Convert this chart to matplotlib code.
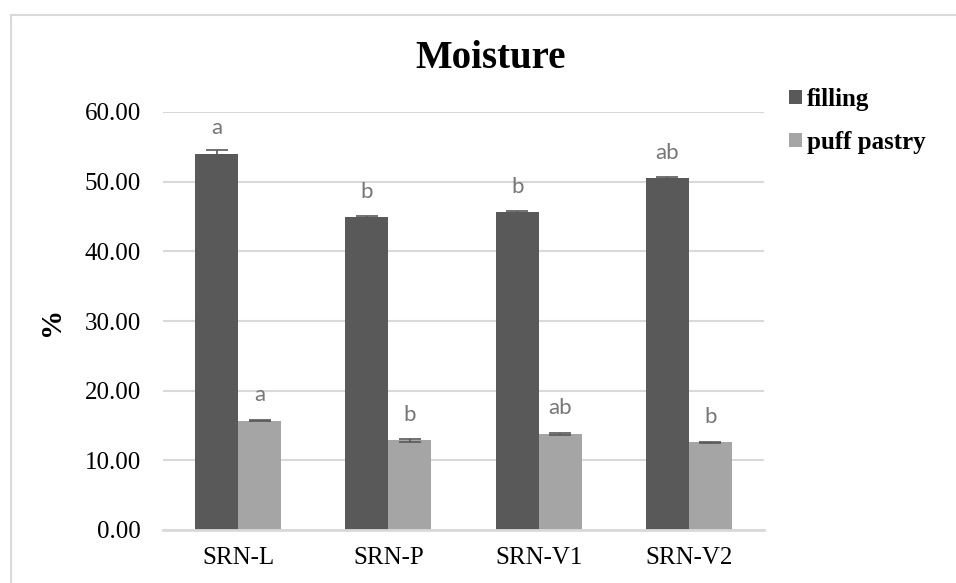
import numpy as np
import matplotlib
matplotlib.use('Agg')
import matplotlib.pyplot as plt
from matplotlib.patches import Rectangle

# chart data
categories = ['SRN-L', 'SRN-P', 'SRN-V1', 'SRN-V2']
filling = [54.0, 44.9, 45.6, 50.5]
filling_err = [0.55, 0.2, 0.15, 0.15]
filling_letters = ['a', 'b', 'b', 'ab']
puff = [15.7, 12.9, 13.8, 12.6]
puff_err = [0.1, 0.2, 0.1, 0.1]
puff_letters = ['a', 'b', 'ab', 'b']
yticks = [0, 10, 20, 30, 40, 50, 60]

serif = 'Liberation Serif'
dark = '#595959'
light = '#a5a5a5'
grid = '#d9d9d9'

fig = plt.figure(figsize=(9.56, 5.83), dpi=100)
ax = fig.add_axes([163 / 956, 1 - 530 / 583, (764 - 163) / 956, (530 - 112) / 583])

x = np.arange(len(categories))
w = 0.286
ax.bar(x - w / 2, filling, w, color=dark, yerr=filling_err, capsize=8,
       error_kw=dict(ecolor=dark, elinewidth=1.2, capthick=1.2), label='filling', zorder=3)
ax.bar(x + w / 2, puff, w, color=light, yerr=puff_err, capsize=8,
       error_kw=dict(ecolor=dark, elinewidth=1.2, capthick=1.2), label='puff pastry', zorder=3)

# significance letters
for i in range(len(categories)):
    ax.annotate(filling_letters[i], (x[i] - w / 2, filling[i]), xytext=(0, 14),
                textcoords='offset points', ha='center', va='baseline',
                fontsize=16, color='#767676', family='Lato')
    ax.annotate(puff_letters[i], (x[i] + w / 2, puff[i]), xytext=(0, 14),
                textcoords='offset points', ha='center', va='baseline',
                fontsize=16, color='#767676', family='Lato')

ax.set_xlim(-0.5, len(categories) - 0.5)
ax.set_ylim(0, 60)
ax.set_yticks(yticks)
ax.set_yticklabels([f'{v:.2f}' for v in yticks], family=serif, fontsize=18)
ax.set_xticks(x)
ax.set_xticklabels(categories, family=serif, fontsize=18)
ax.tick_params(length=0)
ax.tick_params(axis='y', pad=16)
ax.tick_params(axis='x', pad=12)
ax.yaxis.grid(True, color=grid, lw=1.5, zorder=0)
for s in ['top', 'right', 'left']:
    ax.spines[s].set_visible(False)
ax.spines['bottom'].set_color(grid)
ax.spines['bottom'].set_linewidth(2)
ax.spines['bottom'].set_zorder(4)

ax.set_ylabel('%', family=serif, fontsize=21, fontweight='bold', labelpad=14)
fig.text(491 / 956, 1 - 58 / 583, 'Moisture', ha='center', va='center',
         family=serif, fontsize=28, fontweight='bold')

leg = fig.legend(loc='upper left', bbox_to_anchor=(789 / 956, 1 - 88 / 583),
                 frameon=False, prop=dict(family=serif, size=18, weight='bold'),
                 handlelength=0.52, handleheight=0.52, handletextpad=0.2,
                 labelspacing=0.8, borderpad=0, borderaxespad=0)

# chart border
fig.patches.append(Rectangle((11 / 956, -0.2), 1.2, 1.2 - 15 / 583,
                             transform=fig.transFigure, fill=False,
                             edgecolor=grid, lw=1.5))

fig.savefig('out.png', dpi=100)
